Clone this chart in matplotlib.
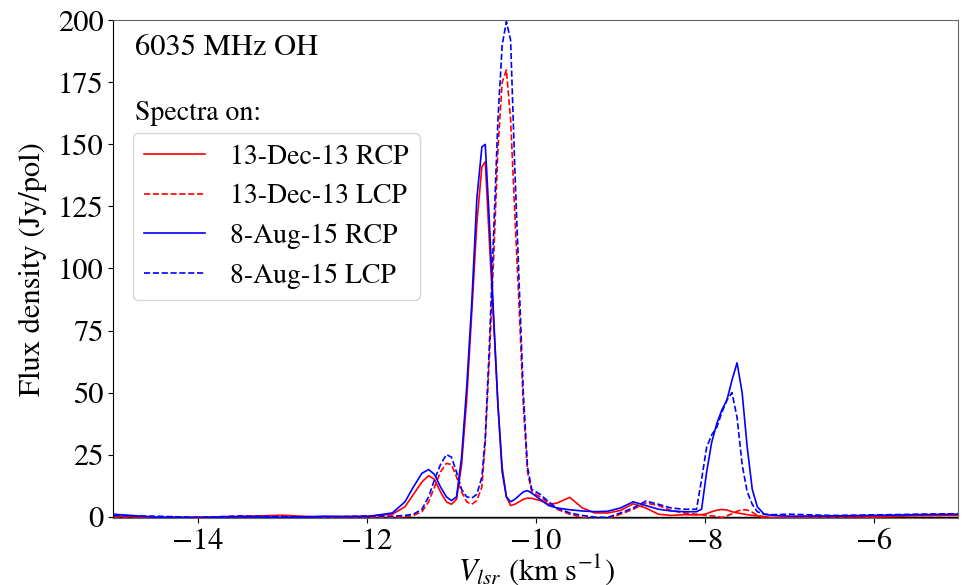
import matplotlib
matplotlib.use("Agg")
import matplotlib.pyplot as plt

plt.rcParams['font.family'] = ['STIXGeneral', 'Liberation Serif', 'DejaVu Serif']
plt.rcParams['mathtext.fontset'] = 'stix'

# velocity grid (km/s), shared by all four spectra
vel = [-15.0, -14.5, -14.0, -13.5, -13.0, -12.5, -12.0, -11.7, -11.55, -11.45,
       -11.35, -11.27, -11.2, -11.13, -11.06, -11.0, -10.94, -10.88, -10.82, -10.76,
       -10.70, -10.64, -10.60, -10.55, -10.50, -10.45, -10.40, -10.35, -10.30, -10.25,
       -10.20, -10.15, -10.10, -10.05, -9.95, -9.85, -9.75, -9.6, -9.45, -9.3,
       -9.15, -9.0, -8.85, -8.7, -8.55, -8.4, -8.25, -8.1, -8.04, -7.98,
       -7.92, -7.86, -7.80, -7.74, -7.68, -7.62, -7.56, -7.50, -7.44, -7.38,
       -7.30, -7.2, -7.0, -6.5, -6.0, -5.5, -5.0]

dec13_rcp = [0.3, -0.3, -0.2, 0.1, 0.6, -0.3, 0.2, 1.0, 4, 9,
             14, 16.5, 15, 10, 6, 5, 7, 21, 47, 82,
             118, 141, 143, 110, 78, 45, 20, 8, 4.5, 5,
             6, 7, 7.5, 7.4, 6.5, 5, 5.5, 7.8, 3.5, 1.5,
             1.5, 2.5, 5.2, 3.5, 1.0, 0.5, 0.8, 0.7, 0.8, 1.2,
             2, 2.6, 2.9, 2.7, 2, 1.5, 1.2, 0.8, 0.5, 0.3,
             0.1, -0.5, -0.3, 0.2, -0.2, 0.4, 0.5]

dec13_lcp = [-0.5, -0.6, -0.3, -0.4, -0.2, -0.5, -0.3, -0.3, 0, 0.5,
             2, 6, 12, 18, 21.5, 21, 16, 10, 6, 5,
             6.5, 12, 30, 65, 105, 148, 175, 180, 160, 122,
             85, 45, 18, 10, 8, 5.5, 3, 1, -0.3, -1,
             -0.8, 1, 3, 5.5, 4.5, 2.5, 1.5, 1.0, 0.8, 0.5,
             0.3, 0.2, -0.3, 0.3, 1.2, 2.2, 2.8, 2.7, 1.8, 0.5,
             -0.5, -0.8, -0.5, -0.3, 0.2, 0.5, 0.6]

aug15_rcp = [1.0, -0.2, -0.4, 0.0, -0.3, 0.2, 0.0, 1.5, 6, 12,
             17.5, 19, 17, 12, 8, 6.5, 8, 24, 52, 86,
             128, 149, 150, 118, 80, 45, 18, 8, 6, 7,
             8.5, 10, 10.5, 9.5, 7, 4.5, 3.5, 2.8, 2.3, 2,
             2.2, 3.5, 6, 4.5, 3, 2.3, 2, 2, 3, 18,
             30, 37.5, 43, 47, 55, 62, 50, 28, 11, 4,
             1, 0.5, 0.2, 0.3, 0.5, 0.8, 1.0]

aug15_lcp = [0.5, 0.2, -0.3, 0.3, 0.0, -0.2, 0.3, 0.2, 0.5, 1,
             3, 8, 15, 21, 25, 24, 18, 11, 8, 7.5,
             9, 16, 32, 70, 115, 160, 190, 199.5, 192, 140,
             95, 50, 20, 11, 9, 6, 3.5, 1.5, 0.5, -0.2,
             -0.3, 1.5, 3.5, 6.3, 5, 3.5, 3, 3, 15, 28,
             33, 36, 42, 47, 50, 40, 21, 10, 5, 2,
             1, 0.8, 1, 0.5, 0.7, 1.0, 1.2]

fig = plt.figure(figsize=(9.65, 5.85), dpi=100)
ax = fig.add_axes([0.1176, 0.1138, 0.8756, 0.8515])

ax.axhline(0, color='black', lw=1.0, zorder=1)
ax.plot(vel, dec13_rcp, color='red', lw=1.2, label='13-Dec-13 RCP')
ax.plot(vel, dec13_lcp, color='red', lw=1.2, ls='--', label='13-Dec-13 LCP')
ax.plot(vel, aug15_rcp, color='blue', lw=1.2, label='8-Aug-15 RCP')
ax.plot(vel, aug15_lcp, color='blue', lw=1.2, ls='--', label='8-Aug-15 LCP')

ax.set_xlim(-15, -5)
ax.set_ylim(-0.7, 200)
ax.set_yticks(range(0, 201, 25))
ax.tick_params(labelsize=22)
for side in ['top', 'right', 'bottom']:
    ax.spines[side].set_color('0.4')

ax.set_xlabel(r'$V_{lsr}$ (km s$^{-1}$)', fontsize=22, labelpad=-3)
ax.set_ylabel('Flux density (Jy/pol)', fontsize=22, labelpad=8)

ax.text(0.025, 0.93, '6035 MHz OH', transform=ax.transAxes, fontsize=22)
ax.text(0.025, 0.80, 'Spectra on:', transform=ax.transAxes, fontsize=20)
ax.legend(loc='upper left', bbox_to_anchor=(0.023, 0.773), borderaxespad=0,
          fontsize=20, handlelength=2.2, handletextpad=0.9)

fig.savefig('out.png', dpi=100)
